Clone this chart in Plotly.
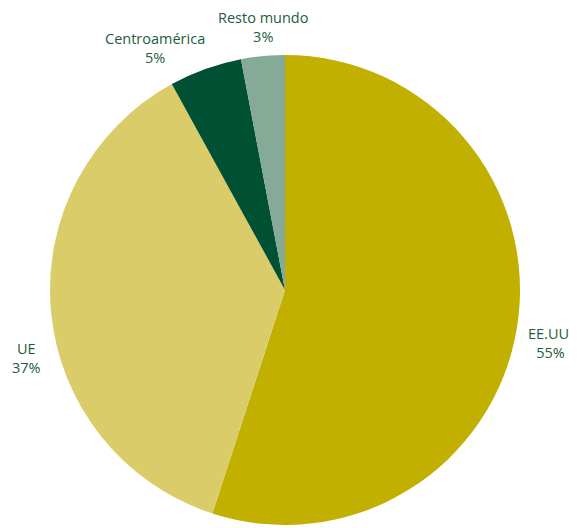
import plotly.graph_objects as go

# Regional share of exports (%)
regions = ["EE.UU.", "UE", "Centroamérica", "Resto mundo"]
shares = [55, 37, 5, 3]
slice_colors = ["#c2b000", "#dacd69", "#005033", "#85aa98"]

# the page body adds an 8px margin, so the figure is drawn 8px smaller
OFF = 8
W, H = 577 - OFF, 528 - OFF
LABEL_COLOR = "#1d5c3d"
# label anchor points (px from window top-left), one per region
label_pos = [(550, 343), (26, 358), (155, 48), (263, 27)]


def px_x(x):
    return (x - OFF) / W


def px_y(y):
    return 1 - (y - OFF) / H


fig = go.Figure(go.Pie(
    labels=regions,
    values=shares,
    sort=False,
    direction="clockwise",
    rotation=0,
    marker=dict(colors=slice_colors, line=dict(width=0)),
    textinfo="none",
    showlegend=False,
    hoverinfo="label+percent",
    domain=dict(x=[px_x(50), px_x(520)], y=[px_y(525), px_y(55)]),
))

for name, val, (lx, ly) in zip(regions, shares, label_pos):
    fig.add_annotation(
        x=px_x(lx), y=px_y(ly), xref="paper", yref="paper",
        text=f"{name}<br>{val}%", showarrow=False, borderpad=0,
        xanchor="center", yanchor="middle", align="center",
        font=dict(family="Open Sans, sans-serif", size=14.5, color=LABEL_COLOR),
    )

fig.update_layout(
    width=W, height=H,
    margin=dict(l=0, r=0, t=0, b=0),
    paper_bgcolor="white",
    plot_bgcolor="white",
)

fig.write_html("out.html")
